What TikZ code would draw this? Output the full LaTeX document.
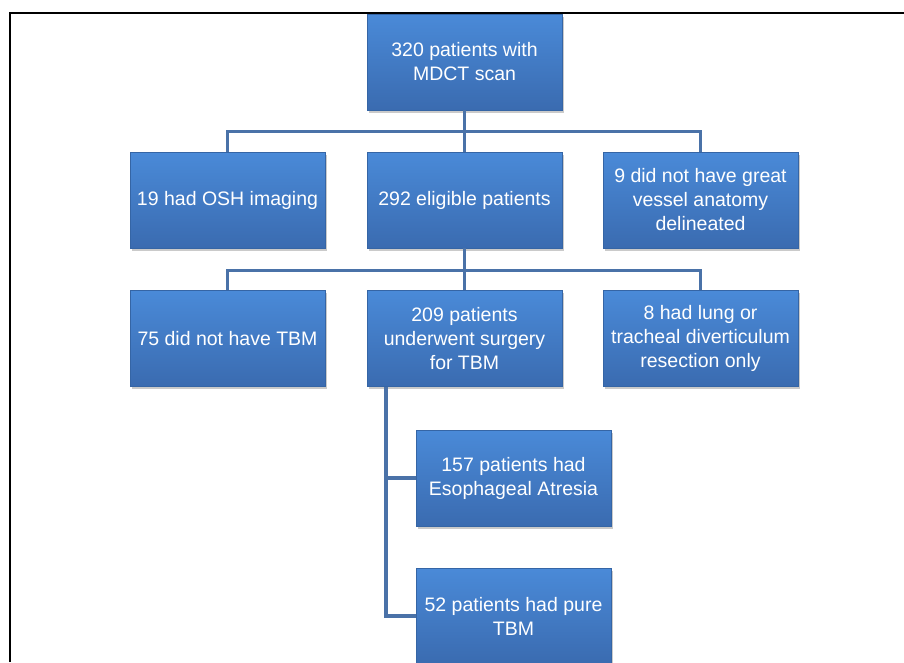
\documentclass[tikz,border=0pt]{standalone}
\usepackage{fontspec}
\setmainfont{Liberation Sans}
\usepackage{tikz}
\usetikzlibrary{positioning,calc,shadows}
\usepackage{xcolor}
\definecolor{boxtop}{HTML}{4A8AD8}
\definecolor{boxbot}{HTML}{3A6BB0}
\definecolor{boxedge}{HTML}{3565A5}
\definecolor{linkcol}{HTML}{4A72A8}

\begin{document}
\begin{tikzpicture}[
    x=1pt, y=-1pt,
    stepbox/.style={top color=boxtop, bottom color=boxbot, draw=boxedge, line width=0.6pt,
        minimum width=195pt, minimum height=96pt, inner sep=1pt, align=center,
        text=white, font=\fontsize{19.5}{24}\selectfont,
        drop shadow={shadow xshift=1.5pt, shadow yshift=-2.5pt, opacity=0.35, fill=black!60}},
    link/.style={draw=linkcol, line width=3.6pt},
    frame/.style={line width=2.6pt, black},
]
\useasboundingbox (0,0) rectangle (904,662);
\draw[frame] (10,662) -- (10,13) -- (904,13);
% boxes
\node[stepbox] (scan) at (464.5, 62) {320 patients with\\ MDCT scan};
\node[stepbox] (osh) at (227.5, 200) {19 had OSH imaging};
\node[stepbox] (elig) at (464.5, 200) {292 eligible patients};
\node[stepbox] (vessel) at (700.5, 200) {9 did not have great\\ vessel anatomy\\ delineated};
\node[stepbox] (notbm) at (227.5, 338.5) {75 did not have TBM};
\node[stepbox] (surg) at (464.5, 338.5) {209 patients\\ underwent surgery\\ for TBM};
\node[stepbox] (lung) at (700.5, 338.5) {8 had lung or\\ tracheal diverticulum\\ resection only};
\node[stepbox] (ea) at (513.5, 478) {157 patients had\\ Esophageal Atresia};
\node[stepbox] (pure) at (513.5, 616) {52 patients had pure\\ TBM};
% connectors
\draw[link] (scan.south) -- ++(0,21) coordinate (j1);
\draw[link] (osh.north) |- (j1) -| (vessel.north);
\draw[link] (j1) -- (elig.north);
\draw[link] (elig.south) -- ++(0,22) coordinate (j2);
\draw[link] (notbm.north) |- (j2) -| (lung.north);
\draw[link] (j2) -- (surg.north);
\coordinate (j3) at ($(surg.south west)+(19,0)$);
\draw[link] (j3) |- (ea.west);
\draw[link] (j3) |- (pure.west);
\end{tikzpicture}
\end{document}
